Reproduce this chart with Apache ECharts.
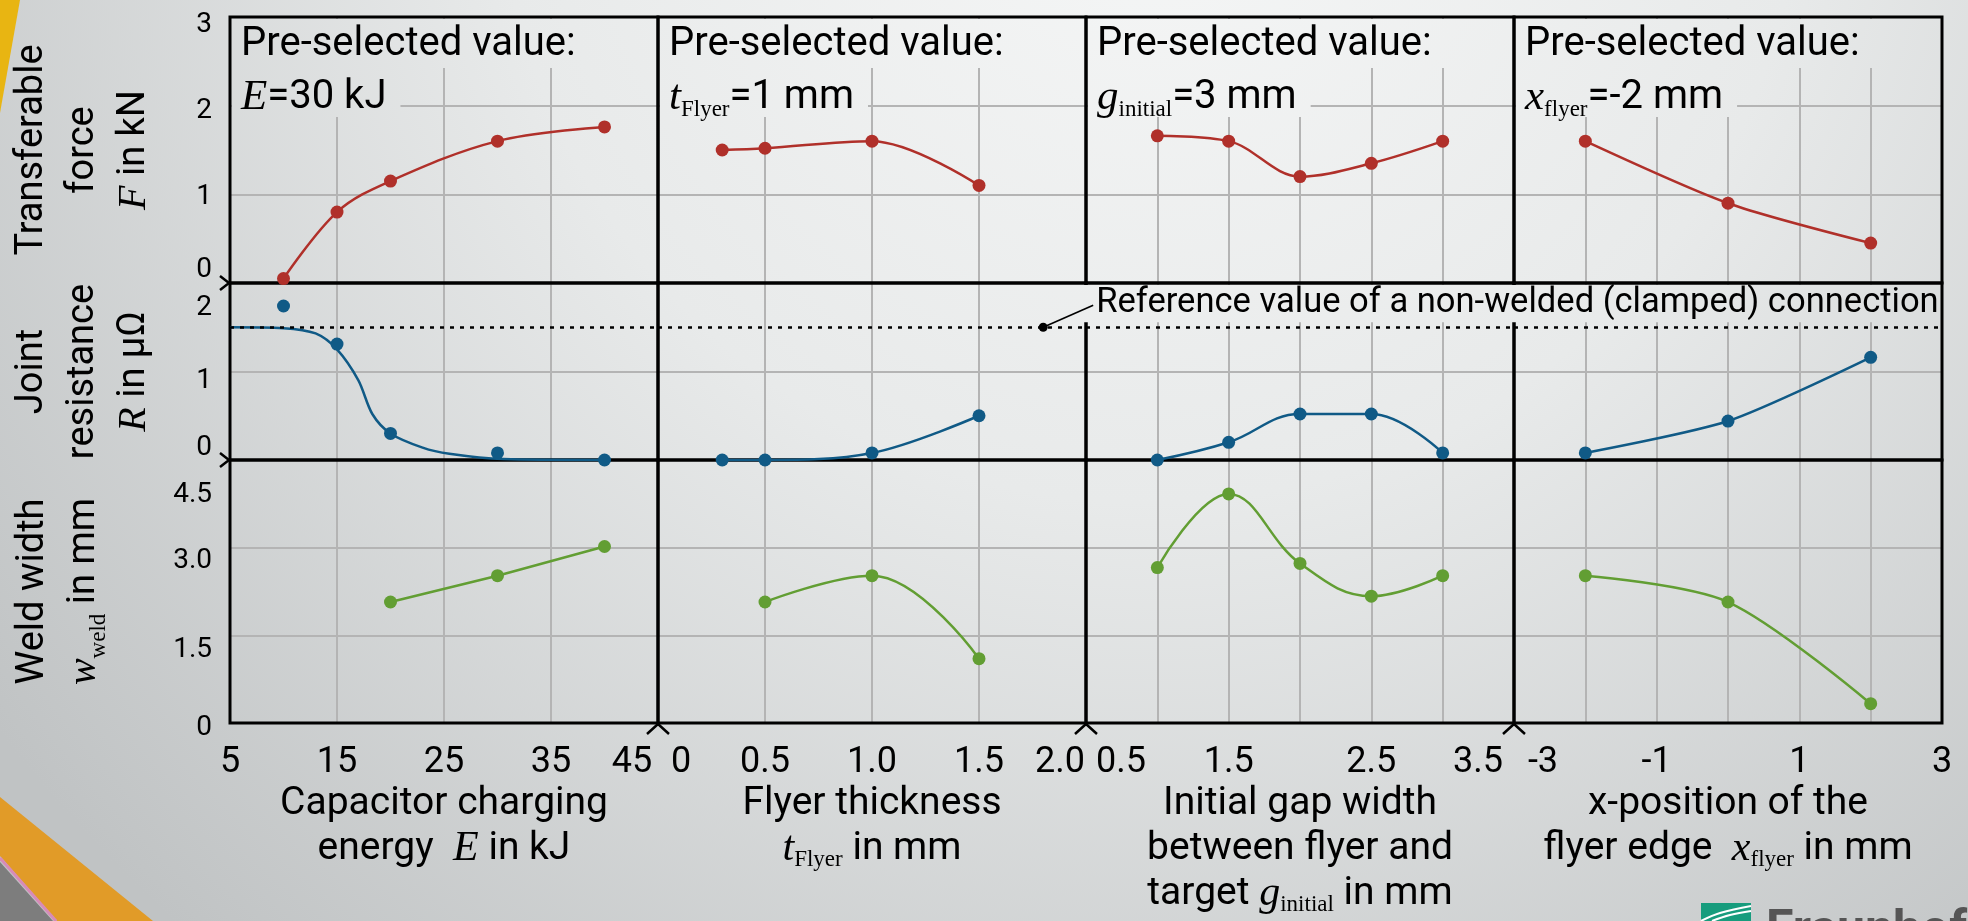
<!DOCTYPE html>
<html>
<head>
<meta charset="utf-8">
<script src="https://cdn.jsdelivr.net/npm/echarts/dist/echarts.min.js"></script>
<style>
html,body{margin:0;padding:0;background:#e4e6e6;overflow:hidden;}
#c{width:1968px;height:921px;}
</style>
</head>
<body>
<div id="c"></div>
<script>
// ------------------------- DATA -------------------------
// Column 1: capacitor charging energy E in kJ
const energyKJ = [10, 15, 20, 30, 40];
const forceVsEnergy = [0.05, 0.8, 1.15, 1.6, 1.76];
const resistVsEnergy = [1.74, 1.31, 0.3, 0.08, 0];
const resistFitEnergy = [5, 10, 13, 15, 17, 18.3, 20, 23, 25.5, 30.5, 40];
const resistFitValues = [1.5, 1.49, 1.43, 1.25, 0.9, 0.52, 0.3, 0.14, 0.07, 0.01, 0];
const weldEnergyKJ = [20, 30, 40];
const weldVsEnergy = [2.07, 2.52, 3.02];

// Column 2: flyer thickness t_Flyer in mm
const flyerThickness = [0.3, 0.5, 1.0, 1.5];
const forceVsThickness = [1.5, 1.52, 1.6, 1.1];
const resistVsThickness = [0, 0, 0.08, 0.5];
const weldThickness = [0.5, 1.0, 1.5];
const weldVsThickness = [2.07, 2.52, 1.1];

// Column 3: initial gap width g_initial in mm
const gapWidth = [1.0, 1.5, 2.0, 2.5, 3.0];
const forceVsGap = [1.66, 1.6, 1.2, 1.35, 1.6];
const resistVsGap = [0, 0.2, 0.52, 0.52, 0.08];
const weldVsGap = [2.66, 3.92, 2.73, 2.17, 2.52];

// Column 4: x-position of the flyer edge x_flyer in mm
const flyerPosition = [-2, 0, 2];
const forceVsPosition = [1.6, 0.9, 0.45];
const resistVsPosition = [0.08, 0.44, 1.16];
const weldVsPosition = [2.52, 2.07, 0.33];

// Reference value of a non-welded (clamped) connection, in µΩ
const referenceResistance = 1.5;
const referenceNoteAtThickness = 1.8;

// Tick labels
const energyTicks = [5, 15, 25, 35, 45];
const thicknessTicks = [0, 0.5, 1.0, 1.5, 2.0];
const gapTicks = [0.5, 1.5, 2.5, 3.5];
const positionTicks = [-3, -1, 1, 3];
const forceTicks = [0, 1, 2, 3];
const resistTicks = [0, 1, 2];
const weldTicks = [0, 1.5, 3.0, 4.5];

// Texts
const xNames = [
  'Capacitor charging\nenergy  {i|E} in kJ',
  'Flyer thickness\n{i|t}{sub|Flyer} in mm',
  'Initial gap width\nbetween flyer and\ntarget {i|g}{sub|initial} in mm',
  'x-position of the\nflyer edge  {i|x}{sub|flyer} in mm'
];
const yNames = [
  'Transferable\nforce\n{i|F} in kN',
  'Joint\nresistance\n{i|R} in μΩ',
  'Weld width\n{i|w}{sub|weld} in mm'
];
const preselectTitle = 'Pre-selected value:';
const preselectValues = [
  [['i', 'E'], ['n', '=30 kJ']],
  [['i', 't'], ['sub', 'Flyer'], ['n', '=1 mm']],
  [['i', 'g'], ['sub', 'initial'], ['n', '=3 mm']],
  [['i', 'x'], ['sub', 'flyer'], ['n', '=-2 mm']]
];
const referenceNote = 'Reference value of a non-welded (clamped) connection';

// ------------------------- STYLE / LAYOUT -------------------------
const SANS = 'Roboto, "Open Sans", "Noto Sans", sans-serif';
const SERIF = '"Liberation Serif", "DejaVu Serif", serif';
const RED = '#b0302a', BLUE = '#105a86', GREEN = '#629e33';
const GRID_C = '#b4b4b4';
const W = 1968, H = 921;
const L = 230, R = 1942, ROWS = [17, 283, 460, 723];
const COLW = (R - L) / 4;
const ANNO_SIZE = 40;

const xTicks = [energyTicks, thicknessTicks, gapTicks, positionTicks];
const xMinor = [false, false, true, true];
const yTicks = [forceTicks, resistTicks, weldTicks];
const xFmt = [v => String(v), v => v === 0 ? '0' : v.toFixed(1), v => v.toFixed(1), v => String(v)];
const yFmt = [v => String(v), v => String(v), v => v === 0 ? '0' : v.toFixed(1)];
const xShift = [{45: -26}, {0: 23, 2: -26}, {0.5: 35, 3.5: -36}, {'-3': 29}];
const yShift = [{0: -13, 1: 3, 2: 5, 3: 8}, {0: -12, 1: 9, 2: 25}, {0: 5, 1.5: 15, 3: 13, 4.5: 35}];

function bgGradient() {
  return new echarts.graphic.RadialGradient(1150, -150, 1450, [
    {offset: 0, color: '#f6f7f7'},
    {offset: 0.45, color: '#e8eaea'},
    {offset: 1, color: '#c0c3c4'}
  ], true);
}

function labelCfg(ticks, fmt, shifts, horizontal, size) {
  const rich = {};
  ticks.forEach((t, i) => {
    const s = shifts[t] || 0;
    rich['k' + i] = {
      fontFamily: SANS, fontSize: size, color: '#000',
      padding: horizontal ? [0, Math.max(0, -2 * s), 0, Math.max(0, 2 * s)]
                          : [Math.max(0, 2 * s), 0, Math.max(0, -2 * s), 0]
    };
  });
  return {
    formatter: v => {
      const i = ticks.findIndex(t => Math.abs(t - v) < 1e-6);
      return i < 0 ? '' : '{k' + i + '|' + fmt(v) + '}';
    },
    rich
  };
}

function nameRich(lh, isize) {
  return {
    i: {fontFamily: SERIF, fontStyle: 'italic', fontSize: isize, color: '#000', lineHeight: lh},
    sub: {fontFamily: SERIF, fontSize: 23, color: '#000', verticalAlign: 'bottom'}
  };
}

// ------------------------- BUILD OPTION -------------------------
const grids = [], xAxes = [], yAxes = [], series = [];
for (let r = 0; r < 3; r++) {
  for (let c = 0; c < 4; c++) {
    const gi = r * 4 + c;
    grids.push({
      left: L + c * COLW, top: ROWS[r], width: COLW, height: ROWS[r + 1] - ROWS[r],
      show: true, borderColor: '#000', borderWidth: 3, backgroundColor: 'transparent', z: 2
    });
    const xt = xTicks[c];
    const xl = labelCfg(xt, xFmt[c], xShift[c], true, 36);
    xAxes.push({
      type: 'value', gridIndex: gi,
      min: xt[0], max: xt[xt.length - 1], interval: xt[1] - xt[0],
      axisLine: {show: false}, axisTick: {show: false},
      axisLabel: r === 2 ? {show: true, margin: 22, formatter: xl.formatter, rich: xl.rich} : {show: false},
      splitLine: {show: true, showMinLine: false, showMaxLine: false, lineStyle: {color: GRID_C, width: 2}},
      minorTick: {show: false, splitNumber: 2},
      minorSplitLine: {show: xMinor[c], lineStyle: {color: GRID_C, width: 2}},
      name: r === 2 ? xNames[c] : '',
      nameLocation: 'middle', nameGap: 57,
      nameTextStyle: {fontFamily: SANS, fontSize: 39, color: '#000', lineHeight: 45, rich: nameRich(45, 42)}
    });
    const yt = yTicks[r];
    const yl = labelCfg(yt, yFmt[r], yShift[r], false, 28);
    yAxes.push({
      type: 'value', gridIndex: gi,
      min: yt[0], max: yt[yt.length - 1], interval: yt[1] - yt[0],
      axisLine: {show: false}, axisTick: {show: false},
      axisLabel: c === 0 ? {show: true, margin: 18, formatter: yl.formatter, rich: yl.rich} : {show: false},
      splitLine: {show: true, showMinLine: false, showMaxLine: false, lineStyle: {color: GRID_C, width: 2}},
      name: c === 0 ? yNames[r] : '',
      nameLocation: 'middle', nameRotate: 90, nameGap: r === 2 ? 120 : 70,
      nameTextStyle: {fontFamily: SANS, fontSize: 38, color: '#000', lineHeight: 51, rich: nameRich(51, 40)}
    });
  }
}

function zip(xs, ys) { return xs.map((x, i) => [x, ys[i]]); }

function lineSeries(gi, xs, ys, color, smooth, extra) {
  return Object.assign({
    type: 'line', xAxisIndex: gi, yAxisIndex: gi, data: zip(xs, ys),
    smooth: smooth, symbol: 'circle', symbolSize: 13, clip: false, z: 3,
    lineStyle: {color: color, width: 2.5}, itemStyle: {color: color, opacity: 1},
    emphasis: {disabled: true}
  }, extra || {});
}

const refLine = {
  silent: true, symbol: ['none', 'none'], label: {show: false},
  lineStyle: {color: '#000', width: 2.5, type: [4, 6]},
  data: [{yAxis: referenceResistance}]
};

// force row
series.push(lineSeries(0, energyKJ, forceVsEnergy, RED, 0.35));
series.push(lineSeries(1, flyerThickness, forceVsThickness, RED, 0.35));
series.push(lineSeries(2, gapWidth, forceVsGap, RED, 0.35));
series.push(lineSeries(3, flyerPosition, forceVsPosition, RED, 0.25));
// resistance row
series.push({
  type: 'scatter', xAxisIndex: 4, yAxisIndex: 4, data: zip(energyKJ, resistVsEnergy),
  symbol: 'circle', symbolSize: 13, itemStyle: {color: BLUE, opacity: 1}, z: 3, clip: false,
  emphasis: {disabled: true}
});
series.push(lineSeries(4, resistFitEnergy, resistFitValues, BLUE, 0.3, {showSymbol: false, markLine: refLine}));
series.push(lineSeries(5, flyerThickness, resistVsThickness, BLUE, 0.35, {markLine: refLine}));
series.push(lineSeries(6, gapWidth, resistVsGap, BLUE, 0.4, {markLine: refLine}));
series.push(lineSeries(7, flyerPosition, resistVsPosition, BLUE, 0.25, {markLine: refLine}));
// weld width row
series.push(lineSeries(8, weldEnergyKJ, weldVsEnergy, GREEN, false));
series.push(lineSeries(9, weldThickness, weldVsThickness, GREEN, 0.4));
series.push(lineSeries(10, gapWidth, weldVsGap, GREEN, 0.4));
series.push(lineSeries(11, flyerPosition, weldVsPosition, GREEN, 0.3));

const chart = echarts.init(document.getElementById('c'), null, {renderer: 'canvas', width: W, height: H});
chart.setOption({
  animation: false,
  backgroundColor: 'transparent',
  grid: grids, xAxis: xAxes, yAxis: yAxes, series: series
});

// ------------------------- GRAPHICS (annotations / decoration) -------------------------
const mctx = document.createElement('canvas').getContext('2d');
function measure(text, font) { mctx.font = font; return mctx.measureText(text).width; }
const PART_FONT = {
  i: 'italic 43px ' + SERIF,
  sub: '23px ' + SERIF,
  n: ANNO_SIZE + 'px ' + SANS
};
const annoRich = {
  i: {fontFamily: SERIF, fontStyle: 'italic', fontSize: 43, fill: '#000', textFill: '#000', lineHeight: 46},
  sub: {fontFamily: SERIF, fontSize: 23, fill: '#000', textFill: '#000', verticalAlign: 'bottom'},
  n: {fontFamily: SANS, fontSize: ANNO_SIZE, fill: '#000', textFill: '#000', lineHeight: 46}
};

function textEl(id, x, y, text, opts) {
  const st = Object.assign({
    text: text, fontFamily: SANS, fontSize: ANNO_SIZE, fill: '#000', textFill: '#000',
    align: 'left', textAlign: 'left', verticalAlign: 'middle', textVerticalAlign: 'middle'
  }, opts || {});
  return {type: 'text', id: id, x: x, y: y, z: 5, silent: true, style: st};
}

const els = [];
els.push({type: 'rect', id: 'bg', z: -10, silent: true,
  shape: {x: 0, y: 0, width: W, height: H}, style: {fill: bgGradient()}});

// decorations
els.push({type: 'polygon', id: 'yellow', z: -5, silent: true,
  shape: {points: [[0, 0], [20, 0], [0, 113]]}, style: {fill: '#e8b512'}});
els.push({type: 'polygon', id: 'orange', z: -5, silent: true,
  shape: {points: [[0, 797], [153, 921], [57, 921], [0, 856]]}, style: {fill: '#e19b28'}});
els.push({type: 'polygon', id: 'greyTri', z: -5, silent: true,
  shape: {points: [[0, 862], [53, 921], [0, 921]]}, style: {fill: '#7d7d7d'}});
els.push({type: 'polyline', id: 'pinkLine', z: -4, silent: true,
  shape: {points: [[0, 858], [56, 921]]}, style: {stroke: '#d78bb8', lineWidth: 3}});
els.push({type: 'rect', id: 'logoBox', z: -4, silent: true,
  shape: {x: 1701, y: 903, width: 50, height: 20}, style: {fill: '#179c7d'}});
els.push({type: 'polyline', id: 'logoArc1', z: -3, silent: true,
  shape: {points: [[1701, 921], [1720, 913], [1751, 906]], smooth: 0.4}, style: {stroke: '#fff', lineWidth: 2}});
els.push({type: 'polyline', id: 'logoArc2', z: -3, silent: true,
  shape: {points: [[1712, 921], [1730, 915], [1751, 911]], smooth: 0.4}, style: {stroke: '#fff', lineWidth: 2}});
els.push(textEl('logoText', 1766, 907, 'Fraunhofer',
  {fontSize: 50, fontWeight: 'bold', fill: '#555', textFill: '#555', verticalAlign: 'top', textVerticalAlign: 'top'}));

// broken-axis chevrons
for (let c = 1; c < 4; c++) {
  const x = L + c * COLW, y = ROWS[3];
  els.push({type: 'polyline', id: 'chevB' + c, z: 5, silent: true,
    shape: {points: [[x - 11, y + 11], [x, y + 1], [x + 11, y + 11]]}, style: {stroke: '#000', lineWidth: 2.5, fill: null}});
}
for (let r = 1; r < 3; r++) {
  const y = ROWS[r];
  els.push({type: 'polyline', id: 'chevL' + r, z: 5, silent: true,
    shape: {points: [[L - 10, y - 7], [L - 1, y], [L - 10, y + 7]]}, style: {stroke: '#000', lineWidth: 2.5, fill: null}});
}

// pre-selected value annotations
for (let c = 0; c < 4; c++) {
  const x0 = L + c * COLW;
  const parts = preselectValues[c];
  const w2 = parts.reduce((s, p) => s + measure(p[1], PART_FONT[p[0]]), 0);
  els.push({type: 'rect', id: 'cov1_' + c, z: 1, silent: true,
    shape: {x: x0 + 2, y: ROWS[0] + 2, width: COLW - 4, height: 49}, style: {fill: bgGradient()}});
  els.push({type: 'rect', id: 'cov2_' + c, z: 1, silent: true,
    shape: {x: x0 + 2, y: ROWS[0] + 51, width: 11 + w2 + 12, height: 49}, style: {fill: bgGradient()}});
  els.push(textEl('pre1_' + c, x0 + 11, ROWS[0] + 28, preselectTitle));
  els.push(textEl('pre2_' + c, x0 + 11, ROWS[0] + 81,
    parts.map(p => '{' + p[0] + '|' + p[1] + '}').join(''), {rich: annoRich}));
}

// reference value annotation
const dot = chart.convertToPixel({gridIndex: 5}, [referenceNoteAtThickness, referenceResistance]);
const noteX = dot[0] + 53, noteY = dot[1] - 24;
const noteSize = 33 * (R - 3 - noteX) / measure(referenceNote, '33px ' + SANS);
els.push({type: 'rect', id: 'noteCover', z: 4, silent: true,
  shape: {x: dot[0] + 38, y: ROWS[1] + 2, width: R - 2 - (dot[0] + 38), height: dot[1] - 5 - (ROWS[1] + 2)},
  style: {fill: bgGradient()}});
els.push(textEl('note', noteX, noteY, referenceNote, {fontSize: noteSize}));
els.push({type: 'line', id: 'leader', z: 5, silent: true,
  shape: {x1: dot[0], y1: dot[1], x2: dot[0] + 50, y2: dot[1] - 22}, style: {stroke: '#000', lineWidth: 1.6}});
els.push({type: 'circle', id: 'leaderDot', z: 5, silent: true,
  shape: {cx: dot[0], cy: dot[1], r: 4.5}, style: {fill: '#000'}});

chart.setOption({graphic: {elements: els}});
</script>
</body>
</html>
